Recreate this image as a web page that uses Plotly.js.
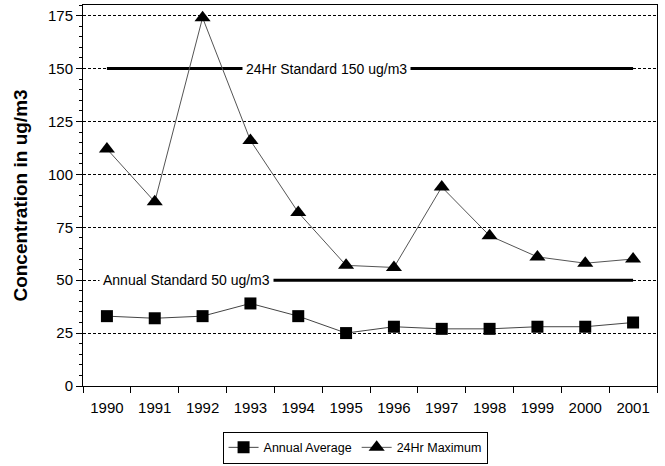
<!DOCTYPE html>
<html><head><meta charset="utf-8">
<script src="https://cdn.plot.ly/plotly-3.0.1.min.js"></script>
<style>html,body{margin:0;padding:0;background:#fff}#chart{width:665px;height:466px}</style>
</head><body><div id="chart"></div>
<script>
var years = ['1990','1991','1992','1993','1994','1995','1996','1997','1998','1999','2000','2001'];
var annualAverage = [33, 32, 33, 39, 33, 25, 28, 27, 27, 28, 28, 30];
var max24Hr = [112, 87, 174, 116, 82, 57, 56, 94, 71, 61, 58, 60];
var standard24Hr = 150;
var standardAnnual = 50;
var yTicks = [0, 25, 50, 75, 100, 125, 150, 175];

var font = '"Liberation Sans", Arial, sans-serif';
var traces = [
  {x: years, y: years.map(function(){return standard24Hr;}), mode: 'lines', line: {color: '#000', width: 3}, showlegend: false, hoverinfo: 'skip'},
  {x: years, y: years.map(function(){return standardAnnual;}), mode: 'lines', line: {color: '#000', width: 3}, showlegend: false, hoverinfo: 'skip'},
  {x: years, y: annualAverage, name: 'Annual Average', mode: 'lines+markers',
   line: {color: '#444', width: 1}, marker: {symbol: 'square', size: 12, color: '#000'}},
  {x: years, y: max24Hr, name: '24Hr Maximum', mode: 'lines+markers',
   line: {color: '#555', width: 1}, marker: {symbol: 'triangle-up', size: 14, color: '#000'}}
];
var layout = {
  width: 665, height: 466,
  margin: {l: 83, r: 8, t: 5, b: 80, autoexpand: false},
  paper_bgcolor: '#fff', plot_bgcolor: '#fff',
  font: {family: font, size: 14, color: '#000'},
  xaxis: {type: 'category', showline: true, linecolor: '#000', linewidth: 1, mirror: true,
    ticks: 'outside', tickson: 'boundaries', ticklen: 6, tickcolor: '#000', showgrid: false,
    tickfont: {size: 15}, ticklabelstandoff: 8, range: [-0.5, 11.5]},
  yaxis: {range: [0, 180], tickvals: yTicks, showline: true, linecolor: '#000', linewidth: 1, mirror: true,
    ticks: 'outside', ticklen: 6, tickcolor: '#000', zeroline: false,
    showgrid: true, gridcolor: '#000', gridwidth: 1, griddash: '3px,2px',
    minor: {dtick: 5, tick0: 0, ticks: 'outside', ticklen: 3, tickcolor: '#000', showgrid: false},
    tickfont: {size: 15},
    title: {text: 'Concentration in ug/m3', font: {size: 19, family: font, weight: 'bold'}, standoff: 15}},
  legend: {orientation: 'h', x: 0.474, xanchor: 'center', y: -0.12, yanchor: 'top',
    bordercolor: '#000', borderwidth: 1, font: {size: 12.5}, itemwidth: 30, tracegroupgap: 0},
  annotations: [
    {x: 4.6, y: standard24Hr, xref: 'x', yref: 'y', text: '24Hr Standard 150 ug/m3', showarrow: false,
     bgcolor: '#fff', borderpad: 3, font: {size: 14}},
    {x: -0.17, y: standardAnnual, xref: 'x', yref: 'y', text: 'Annual Standard 50 ug/m3', showarrow: false,
     xanchor: 'left', bgcolor: '#fff', borderpad: 3, font: {size: 14}}
  ]
};
Plotly.newPlot('chart', traces, layout, {displayModeBar: false, staticPlot: true});
</script></body></html>
